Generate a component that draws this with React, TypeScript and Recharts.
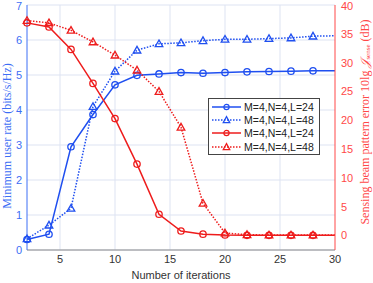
import React from 'react';
import { ComposedChart, Line, XAxis, YAxis, CartesianGrid } from 'recharts';

const iterations = [2, 4, 6, 8, 10, 12, 14, 16, 18, 20, 22, 24, 26, 28, 30];
const rateL24 = [0.30, 0.45, 2.95, 3.87, 4.72, 4.99, 5.03, 5.07, 5.05, 5.07, 5.09, 5.10, 5.11, 5.12, 5.12];
const rateL48 = [0.32, 0.71, 1.19, 4.10, 5.11, 5.71, 5.89, 5.92, 5.98, 6.02, 6.02, 6.04, 6.06, 6.11, 6.12];
const errL24 = [36.9, 36.2, 32.3, 26.4, 20.3, 12.4, 3.7, 0.8, 0.25, 0.1, 0.05, 0.05, 0.05, 0.05, 0.05];
const errL48 = [37.3, 36.9, 35.6, 33.6, 31.3, 28.7, 25.0, 18.8, 5.6, 0.45, 0.15, 0.1, 0.1, 0.1, 0.1];
const markerless = [30];

const xTicks = [5, 10, 15, 20, 25, 30];
const leftTicks = [0, 1, 2, 3, 4, 5, 6, 7];
const rightTicks = [0, 5, 10, 15, 20, 25, 30, 35, 40];
const legendLabels = ['M=4,N=4,L=24', 'M=4,N=4,L=48', 'M=4,N=4,L=24', 'M=4,N=4,L=48'];

const data = iterations.map((it, i) => ({
  it,
  r24: rateL24[i],
  r48: rateL48[i],
  e24: errL24[i],
  e48: errL48[i],
}));

const BLUE = '#1f4ff0';
const BLUE_AX = '#3d6ef5';
const RED = '#ee1c1c';
const RED_AX = '#ff4848';
const GRID = '#dde3f2';

const circleDot = (color: string) => (props: any) => {
  const { cx, cy, payload, index } = props;
  if (markerless.includes(payload.it) || cx == null || cy == null) return <g key={index} />;
  return <circle key={index} cx={cx} cy={cy} r={3.2} fill="none" stroke={color} strokeWidth={1.3} />;
};

const triDot = (color: string) => (props: any) => {
  const { cx, cy, payload, index } = props;
  if (markerless.includes(payload.it) || cx == null || cy == null) return <g key={index} />;
  const s = 3.8;
  const pts = `${cx},${cy - s} ${cx - s},${cy + s * 0.75} ${cx + s},${cy + s * 0.75}`;
  return <polygon key={index} points={pts} fill="none" stroke={color} strokeWidth={1.3} />;
};

const legendItems = [
  { color: BLUE, dash: undefined, marker: 'circle' },
  { color: BLUE, dash: '1.5 1.5', marker: 'tri' },
  { color: RED, dash: undefined, marker: 'circle' },
  { color: RED, dash: '1.5 1.5', marker: 'tri' },
];

const LegendBox = () => (
  <div
    style={{
      position: 'absolute',
      left: 208,
      top: 98,
      border: '1px solid #444',
      background: '#fff',
      width: 110,
      padding: '1px 0 1px 0',
      fontFamily: 'Liberation Sans, Arial, sans-serif',
      fontSize: 10.5,
      color: '#222',
    }}
  >
    {legendItems.map((it, i) => (
      <div key={i} style={{ display: 'flex', alignItems: 'center', height: 13.3 }}>
        <svg width={34} height={12} style={{ display: 'block' }}>
          <line x1={3} y1={6} x2={32} y2={6} stroke={it.color} strokeWidth={1.5} strokeDasharray={it.dash} />
          {it.marker === 'circle' ? (
            <circle cx={17.5} cy={6} r={2.6} fill="none" stroke={it.color} strokeWidth={1.2} />
          ) : (
            <polygon points="17.5,2.6 14.2,8.6 20.8,8.6" fill="none" stroke={it.color} strokeWidth={1.2} />
          )}
        </svg>
        <span style={{ marginLeft: 1, whiteSpace: 'nowrap' }}>{legendLabels[i]}</span>
      </div>
    ))}
  </div>
);

const LeftLabel = () => (
  <text
    x={7}
    y={136}
    transform="rotate(-90 7 136)"
    textAnchor="middle"
    dominantBaseline="central"
    fill={BLUE_AX}
    fontFamily="Liberation Serif, Times New Roman, serif"
    fontSize={12}
  >
    Minimum user rate (bits/s/Hz)
  </text>
);

const RightLabel = () => (
  <text
    x={365}
    y={122}
    transform="rotate(-90 365 122)"
    textAnchor="middle"
    dominantBaseline="central"
    fill={RED_AX}
    fontFamily="Liberation Serif, Times New Roman, serif"
    fontSize={12}
  >
    Sensing beam pattern error 10lg <tspan fontStyle="italic">𝒥</tspan>
    <tspan fontSize={7} dy={3}>sense</tspan>
    <tspan dy={-3}> (dB)</tspan>
  </text>
);

export default function App() {
  return (
    <div style={{ position: 'absolute', left: 0, top: 0, width: 373, height: 283, background: '#fff' }}>
      <ComposedChart width={373} height={283} data={data} margin={{ top: 5, right: 0, bottom: 0, left: 0 }}>
        <CartesianGrid stroke={GRID} strokeWidth={1} horizontalValues={leftTicks} verticalValues={[5, 10, 15, 20, 25]} yAxisId="left" />
        <XAxis
          dataKey="it"
          type="number"
          domain={[2, 30]}
          ticks={xTicks}
          height={33}
          tickLine={false}
          tickSize={5}
          tickMargin={0}
          stroke="#8a8a8a"
          tick={{ fill: '#333', fontSize: 11, fontFamily: 'Liberation Sans, Arial, sans-serif' }}
          label={{ value: 'Number of iterations', position: 'insideBottom', offset: 4, fill: '#333', fontSize: 11, fontFamily: 'Liberation Sans, Arial, sans-serif' }}
        />
        <YAxis
          yAxisId="left"
          orientation="left"
          domain={[0, 7]}
          ticks={leftTicks}
          width={27}
          tickLine={false}
          tickSize={5}
          tickMargin={0}
          stroke={BLUE_AX}
          tick={{ fill: BLUE_AX, fontSize: 11, fontFamily: 'Liberation Sans, Arial, sans-serif' }}
          label={<LeftLabel />}
        />
        <YAxis
          yAxisId="right"
          orientation="right"
          domain={[-2.5, 40]}
          ticks={rightTicks}
          width={38}
          tickLine={false}
          tickSize={6}
          tickMargin={0}
          stroke={RED_AX}
          tick={{ fill: RED_AX, fontSize: 11, fontFamily: 'Liberation Sans, Arial, sans-serif', textAnchor: 'start' }}
          label={<RightLabel />}
        />
        <Line yAxisId="left" dataKey="r24" stroke={BLUE} strokeWidth={1.5} dot={circleDot(BLUE)} isAnimationActive={false} />
        <Line yAxisId="left" dataKey="r48" stroke={BLUE} strokeWidth={1.5} strokeDasharray="1.5 1.5" dot={triDot(BLUE)} isAnimationActive={false} />
        <Line yAxisId="right" dataKey="e24" stroke={RED} strokeWidth={1.5} dot={circleDot(RED)} isAnimationActive={false} />
        <Line yAxisId="right" dataKey="e48" stroke={RED} strokeWidth={1.5} strokeDasharray="1.5 1.5" dot={triDot(RED)} isAnimationActive={false} />
      </ComposedChart>
      <LegendBox />
    </div>
  );
}
